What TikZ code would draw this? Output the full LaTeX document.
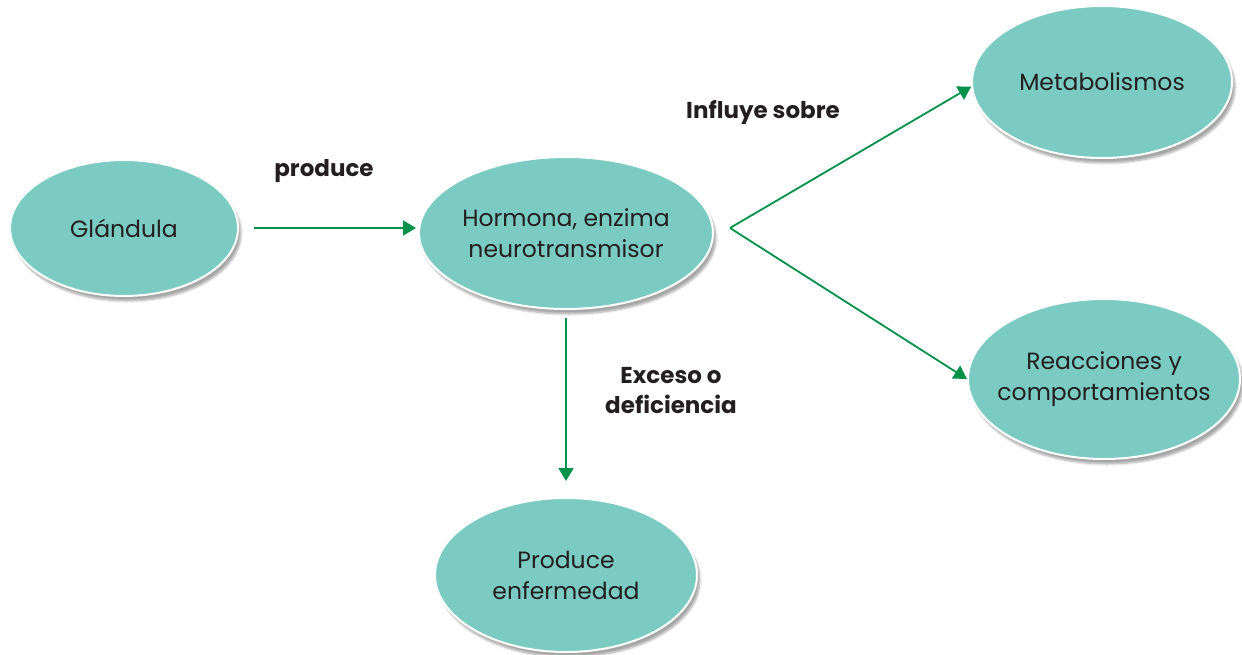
\documentclass[tikz,border=0pt]{standalone}
\usepackage{fontspec}
\setmainfont{Poppins}
\usetikzlibrary{arrows.meta,shadows.blur,shapes.geometric,calc}
\definecolor{tealfill}{HTML}{7BCBC3}
\definecolor{arrowgreen}{HTML}{00914A}
\definecolor{txt}{HTML}{231F20}
\tikzset{
  bubble/.style={ellipse, fill=tealfill, draw=white, line width=2pt,
    blur shadow={shadow xshift=3pt, shadow yshift=-5pt, shadow blur steps=6, shadow opacity=35},
    text=txt, font=\fontsize{23.5}{31}\selectfont, align=center, inner xsep=-40pt, inner ysep=0pt},
  conn/.style={draw=arrowgreen, line width=1.8pt, -{Triangle[length=13pt,width=15pt]}},
  lbl/.style={text=txt, font=\fontsize{23}{30}\selectfont\bfseries, align=center}
}
\begin{document}
\begin{tikzpicture}[x=1pt,y=-1pt]
\useasboundingbox (0,0) rectangle (1242,655);
\node[bubble, minimum width=228pt, minimum height=136pt] (g) at (124,228) {Glándula};
\node[bubble, minimum width=294pt, minimum height=152pt] (h) at (566,233) {Hormona, enzima\\neurotransmisor};
\node[bubble, minimum width=260pt, minimum height=152pt] (m) at (1102,82) {Metabolismos};
\node[bubble, minimum width=272pt, minimum height=160pt] (r) at (1104,379) {Reacciones y\\comportamientos};
\node[bubble, minimum width=262pt, minimum height=154pt] (e) at (566,575) {Produce\\enfermedad};
\coordinate (fork) at (730,228);
\draw[conn, shorten <=15pt, shorten >=2pt] (g.east) -- (h.west |- g.east);
\draw[conn] (fork) -- (m.182);
\draw[conn] (fork) -- (r.180);
\draw[conn, shorten <=8pt, shorten >=16pt] (h.south) -- (e.north);
\node[lbl] (l1) at (324,171) {produce};
\node[lbl] (l2) at (763,113) {Influye sobre};
\node[lbl] (l3) at (671,391) {Exceso o\\deficiencia};
\end{tikzpicture}
\end{document}
